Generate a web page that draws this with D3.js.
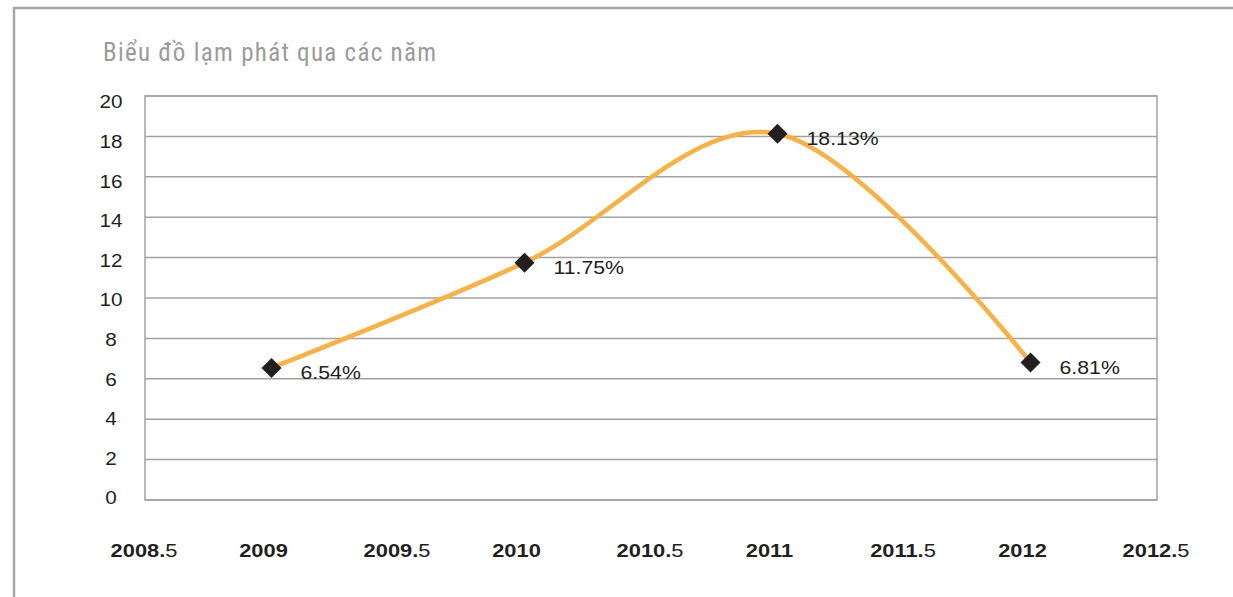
<!DOCTYPE html>
<html>
<head>
<meta charset="utf-8">
<script src="https://cdn.jsdelivr.net/npm/d3@7"></script>
<style>
  html, body { margin: 0; padding: 0; background: #fff; }
  svg { display: block; }
</style>
</head>
<body>
<svg id="chart" width="1233" height="597"></svg>
<script>
// chart data
var title = "Biểu đồ lạm phát qua các năm";
var years = [2009, 2010, 2011, 2012];
var inflation = [6.54, 11.75, 18.13, 6.81];
var pointLabels = ["6.54%", "11.75%", "18.13%", "6.81%"];
var xTicks = [2008.5, 2009, 2009.5, 2010, 2010.5, 2011, 2011.5, 2012, 2012.5];
var yTicks = [0, 2, 4, 6, 8, 10, 12, 14, 16, 18, 20];

var svg = d3.select("#chart");
var stretch = 1.15; // the original text is a bit wide

var plot = { left: 145, right: 1157, top: 96, bottom: 500 };

var x = d3.scaleLinear().domain([2008.5, 2012.5]).range([plot.left, plot.right]);
var y = d3.scaleLinear().domain([0, 20]).range([plot.bottom, plot.top]);
// tick labels sit a little off the grid lines in the original
var yLabel = d3.scaleLinear().domain([0, 20]).range([498, 102]);

// outer frame (only top and left are visible)
svg.append("path")
  .attr("d", "M14,597 L14,8 L1233,8")
  .attr("fill", "none")
  .attr("stroke", "#a7a7a7")
  .attr("stroke-width", 2.5);

// title
svg.append("text")
  .attr("x", 103)
  .attr("y", 61)
  .attr("textLength", 333)
  .attr("lengthAdjust", "spacing")
  .style("font-family", "'Liberation Sans Narrow', 'Roboto Condensed', 'Liberation Sans', Arial, sans-serif")
  .style("font-size", "25px")
  .style("fill", "#9b9b9b")
  .text(title);

// grid lines
svg.append("g")
  .selectAll("line")
  .data(yTicks)
  .enter().append("line")
  .attr("x1", plot.left)
  .attr("x2", plot.right)
  .attr("y1", function (d) { return y(d); })
  .attr("y2", function (d) { return y(d); })
  .attr("stroke", "#a2a2a2")
  .attr("stroke-width", 1.5);

// plot border
svg.append("rect")
  .attr("x", plot.left)
  .attr("y", plot.top)
  .attr("width", plot.right - plot.left)
  .attr("height", plot.bottom - plot.top)
  .attr("fill", "none")
  .attr("stroke", "#a2a2a2")
  .attr("stroke-width", 1.5);

// y tick labels
svg.append("g")
  .selectAll("text")
  .data(yTicks)
  .enter().append("text")
  .attr("transform", function (d) {
    return "translate(111," + yLabel(d) + ") scale(" + stretch + ",1)";
  })
  .attr("text-anchor", "middle")
  .attr("dy", "0.35em")
  .style("font-family", "'Liberation Sans', Arial, sans-serif")
  .style("font-size", "18px")
  .style("fill", "#231f20")
  .text(function (d) { return d; });

// x tick labels: integer part bold, decimal digit regular
var xl = svg.append("g")
  .selectAll("text")
  .data(xTicks)
  .enter().append("text")
  .attr("transform", function (d) {
    var shift = d % 1 ? -1 : -8;
    return "translate(" + (x(d) + shift) + ",557) scale(" + stretch + ",1)";
  })
  .attr("text-anchor", "middle")
  .style("font-family", "'Liberation Sans', Arial, sans-serif")
  .style("font-size", "19px")
  .style("fill", "#231f20");

xl.append("tspan")
  .style("font-weight", "bold")
  .text(function (d) { return d % 1 ? Math.floor(d) + "." : d; });
xl.append("tspan")
  .text(function (d) { return d % 1 ? "5" : ""; });

// smooth line
var points = years.map(function (yr, i) {
  return { year: yr, value: inflation[i], label: pointLabels[i] };
});

var line = d3.line()
  .x(function (d) { return x(d.year); })
  .y(function (d) { return y(d.value); })
  .curve(d3.curveCatmullRom.alpha(0));

svg.append("path")
  .datum(points)
  .attr("d", line)
  .attr("fill", "none")
  .attr("stroke", "#fbb040")
  .attr("stroke-width", 4.5)
  .attr("stroke-linecap", "round");

// diamond markers
svg.append("g")
  .selectAll("path")
  .data(points)
  .enter().append("path")
  .attr("transform", function (d) {
    return "translate(" + x(d.year) + "," + y(d.value) + ")";
  })
  .attr("d", "M0,-10 L10,0 L0,10 L-10,0 Z")
  .attr("fill", "#231f20");

// value labels
svg.append("g")
  .selectAll("text")
  .data(points)
  .enter().append("text")
  .attr("transform", function (d) {
    return "translate(" + (x(d.year) + 29) + "," + (y(d.value) + 5) + ") scale(" + stretch + ",1)";
  })
  .attr("dy", "0.35em")
  .style("font-family", "'Liberation Sans', Arial, sans-serif")
  .style("font-size", "18.5px")
  .style("fill", "#231f20")
  .text(function (d) { return d.label; });
</script>
</body>
</html>
